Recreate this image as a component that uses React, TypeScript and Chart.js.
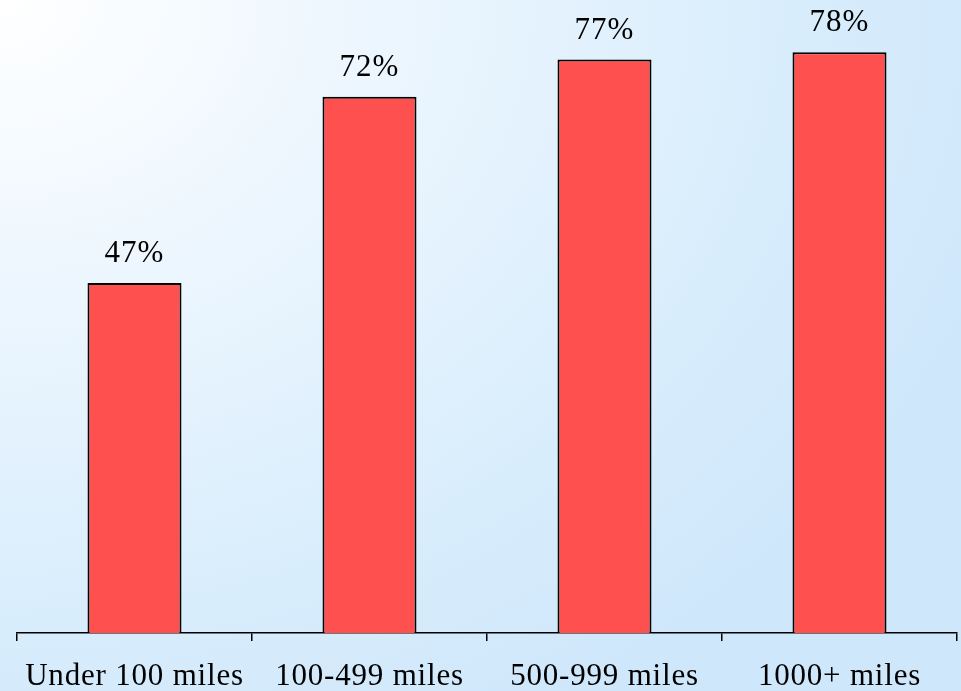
import React, { useEffect, useRef } from "react";
import { Chart, registerables } from "chart.js";

Chart.register(...registerables);

const categories = ["Under 100 miles", "100-499 miles", "500-999 miles", "1000+ miles"];
const values = [47, 72, 77, 78];
const valueLabels = ["47%", "72%", "77%", "78%"];

const FONT = "'Liberation Serif', 'Times New Roman', serif";

const spacingPlugin = {
  id: "letterSpacing",
  beforeDraw(chart: any) {
    (chart.ctx as any).letterSpacing = "0.8px";
  },
};

const labelPlugin = {
  id: "valueLabels",
  afterDatasetsDraw(chart: any) {
    const ctx = chart.ctx;
    const meta = chart.getDatasetMeta(0);
    ctx.save();
    (ctx as any).letterSpacing = "1px";
    ctx.font = `31px ${FONT}`;
    ctx.fillStyle = "#000";
    ctx.textAlign = "center";
    ctx.textBaseline = "alphabetic";
    meta.data.forEach((bar: any, i: number) => {
      ctx.fillText(valueLabels[i], bar.x, bar.y - 21);
    });
    ctx.restore();
  },
};

export default function App() {
  const ref = useRef<HTMLCanvasElement>(null);
  useEffect(() => {
    document.body.style.margin = "0";
    const chart = new Chart(ref.current!, {
      type: "bar",
      data: {
        labels: categories,
        datasets: [
          {
            data: values,
            backgroundColor: "#FF5050",
            borderColor: "#000000",
            borderWidth: 2,
            borderSkipped: "bottom",
            barPercentage: 0.4,
            categoryPercentage: 1,
          },
        ],
      },
      options: {
        animation: false,
        responsive: false,
        maintainAspectRatio: false,
        layout: { padding: { left: 17, right: 4, top: 0, bottom: 0 } },
        plugins: { legend: { display: false }, tooltip: { enabled: false } },
        scales: {
          y: { display: false, min: 0, max: 85 },
          x: {
            afterFit(scale: any) {
              scale.height = 58;
            },
            border: { display: true, color: "#000", width: 1.5 },
            grid: {
              display: true,
              drawOnChartArea: false,
              drawTicks: true,
              tickLength: 8,
              color: "#000",
              lineWidth: 1.5,
              offset: true,
            },
            ticks: {
              color: "#000",
              font: { family: FONT, size: 31 },
              padding: 17,
              maxRotation: 0,
              autoSkip: false,
            },
          },
        },
      },
      plugins: [spacingPlugin, labelPlugin],
    });
    return () => chart.destroy();
  }, []);
  return (
    <div
      style={{
        position: "absolute",
        left: 0,
        top: 0,
        width: 961,
        height: 691,
        background:
          "radial-gradient(ellipse 110% 120% at 0% 0%, #ffffff 0%, #eaf5fe 40%, #d8edfc 75%, #cfe7fb 100%)",
      }}
    >
      <canvas ref={ref} width={961} height={691} />
    </div>
  );
}
